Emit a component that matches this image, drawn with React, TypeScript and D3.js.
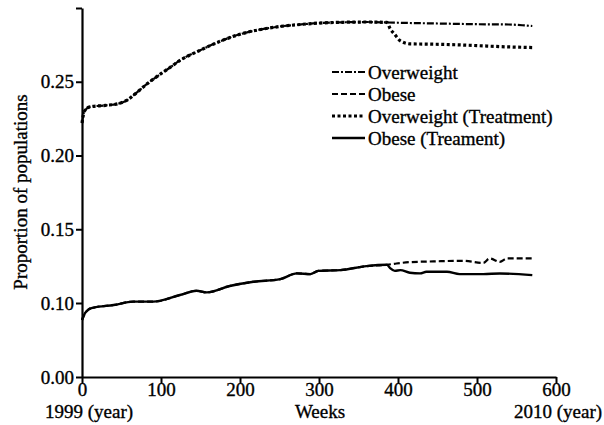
import React, { useEffect, useRef } from 'react'
import * as d3 from 'd3'

// weeks shared by all four series before the treatment starts
const baseWeeks = [0, 3, 10, 30, 45, 57, 70, 82, 100, 111, 124, 149, 172, 190, 209, 230, 251, 276, 297, 330, 360, 386]
const overweightBase = [0.222, 0.230, 0.233, 0.234, 0.235, 0.2375, 0.243, 0.2484, 0.2555, 0.2595, 0.2645, 0.2712, 0.2768, 0.2805, 0.2835, 0.2858, 0.2875, 0.2888, 0.2897, 0.2903, 0.2905, 0.2902]

const obeseWeeksBase = [0, 4, 8, 14, 40, 65, 90, 124, 145, 158, 187, 217, 251, 272, 289, 299, 327, 360, 386]
const obeseBase = [0.077, 0.0865, 0.091, 0.0936, 0.0973, 0.1009, 0.1009, 0.1054, 0.1083, 0.1072, 0.1115, 0.1144, 0.1162, 0.1201, 0.1196, 0.1218, 0.1223, 0.125, 0.1259]

// after the split
const overweightWeeks = [400, 450, 500, 540, 560, 570]
const overweightAfter = [0.290, 0.2895, 0.289, 0.2888, 0.2882, 0.2878]
const overweightTreatWeeks = [390, 396, 403, 415, 440, 466, 500, 530, 570]
const overweightTreatAfter = [0.286, 0.282, 0.2777, 0.2757, 0.2755, 0.2752, 0.2745, 0.2738, 0.2732]

const obeseWeeks = [398, 415, 445, 482, 508, 516, 529, 538, 570]
const obeseAfter = [0.1268, 0.1277, 0.1282, 0.1286, 0.1272, 0.1302, 0.1279, 0.1302, 0.1302]
const obeseTreatWeeks = [390, 396, 403, 415, 428, 436, 462, 478, 508, 529, 570]
const obeseTreatAfter = [0.1236, 0.1218, 0.1223, 0.1205, 0.1201, 0.1212, 0.1212, 0.1196, 0.1196, 0.120, 0.1189]

const xTicks = [0, 100, 200, 300, 400, 500, 600]
const yTicks = [0, 0.10, 0.15, 0.20, 0.25, 0.30]
const yTickLabels = ['0.00', '0.10', '0.15', '0.20', '0.25', '']

const legendLabels = ['Overweight', 'Obese', 'Overweight (Treatment)', 'Obese (Treament)']

const FONT = '"Liberation Serif", "Times New Roman", serif'

function App() {
    const ref = useRef<SVGSVGElement>(null)

    useEffect(() => {
        const svg = d3.select(ref.current)
        svg.selectAll('*').remove()

        const zip = (ws: number[], vs: number[]) => ws.map((w, i) => [w, vs[i]] as [number, number])
        const baseOw = zip(baseWeeks, overweightBase)
        const baseOb = zip(obeseWeeksBase, obeseBase)

        const series = [
            { data: baseOw.concat(zip(overweightWeeks, overweightAfter)), dash: '7,2,2,2', width: 2.2 },
            { data: baseOb.concat(zip(obeseWeeks, obeseAfter)), dash: '6,3', width: 2.2 },
            { data: baseOw.concat(zip(overweightTreatWeeks, overweightTreatAfter)), dash: '3,2.5', width: 3.2 },
            { data: baseOb.concat(zip(obeseTreatWeeks, obeseTreatAfter)), dash: null, width: 2.4 },
        ]

        const x = d3.scaleLinear().domain([0, 600]).range([82, 556])
        // broken axis: 0-0.10 squeezed into one step
        const y = d3.scaleLinear().domain([0, 0.10, 0.30]).range([377, 303, 8])

        const line = d3.line<[number, number]>()
            .x(d => x(d[0]))
            .y(d => y(d[1]))
            .curve(d3.curveMonotoneX)

        series.forEach(s => {
            svg.append('path')
                .datum(s.data)
                .attr('d', line)
                .attr('fill', 'none')
                .attr('stroke', '#000')
                .attr('stroke-width', s.width)
                .attr('stroke-dasharray', s.dash)
        })

        // axes
        const xAxis = svg.append('g')
            .attr('transform', 'translate(0,377)')
            .call(d3.axisBottom(x).tickValues(xTicks).tickFormat(d3.format('d')).tickSize(6).tickSizeOuter(0))
        const yAxis = svg.append('g')
            .attr('transform', 'translate(82,0)')
            .call(d3.axisLeft(y).tickValues(yTicks).tickFormat((d, i) => yTickLabels[i]).tickSize(6).tickSizeOuter(0))

        ;[xAxis, yAxis].forEach(g => {
            g.selectAll('.domain').attr('stroke-width', 2.2)
            g.selectAll('.tick line').attr('stroke-width', 2)
            g.selectAll('text')
                .attr('font-family', FONT)
                .attr('font-size', 19)
                .attr('fill', '#000')
                .attr('stroke', '#000')
                .attr('stroke-width', 0.35)
        })
        xAxis.selectAll('text').attr('dy', '0.71em').attr('y', 6)
        yAxis.selectAll('text').attr('x', -8)

        const text = (tx: number, ty: number, s: string, anchor = 'middle') =>
            svg.append('text')
                .attr('x', tx)
                .attr('y', ty)
                .attr('text-anchor', anchor)
                .attr('font-family', FONT)
                .attr('font-size', 19)
                .attr('stroke', '#000')
                .attr('stroke-width', 0.35)
                .text(s)

        text(45, 418, '1999 (year)', 'start')
        text(320, 418, 'Weeks')
        text(558, 418, '2010 (year)')

        text(0, 0, 'Proportion of populations')
            .attr('transform', 'translate(27,192) rotate(-90)')

        // legend
        const legend = svg.append('g').attr('transform', 'translate(332,72)')
        legendLabels.forEach((label, i) => {
            const s = series[i]
            const row = legend.append('g').attr('transform', `translate(0,${i * 22})`)
            row.append('line')
                .attr('x1', 0).attr('x2', 33)
                .attr('stroke', '#000')
                .attr('stroke-width', s.width)
                .attr('stroke-dasharray', s.dash)
            row.append('text')
                .attr('x', 36)
                .attr('dy', '0.35em')
                .attr('font-family', FONT)
                .attr('font-size', 19)
                .attr('stroke', '#000')
                .attr('stroke-width', 0.35)
                .text(label)
        })
    }, [])

    return (
        <svg ref={ref} width={604} height={425}
            style={{ position: 'absolute', left: 0, top: 0, background: '#fff' }} />
    )
}

export default App
